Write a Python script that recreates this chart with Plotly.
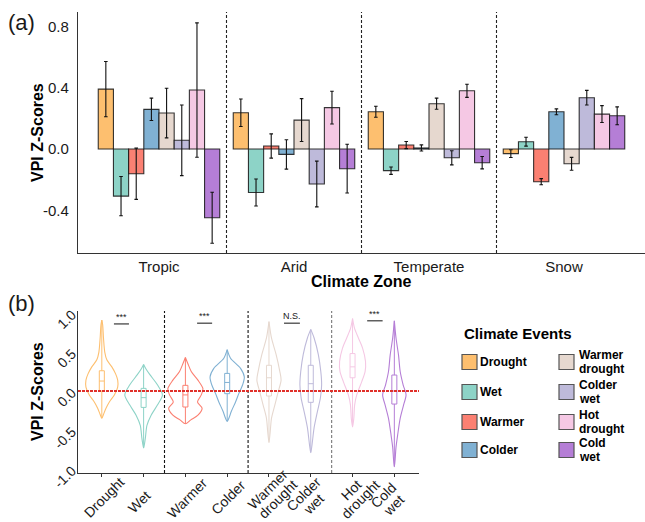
import plotly.graph_objects as go

# ---------------- data ----------------
zones = ["Tropic", "Arid", "Temperate", "Snow"]
events = ["Drought", "Wet", "Warmer", "Colder",
          "Warmer drought", "Colder wet", "Hot drought", "Cold wet"]
event_ticks = ["Drought", "Wet", "Warmer", "Colder",
               "Warmer<br>drought", "Colder<br>wet", "Hot<br>drought", "Cold<br>wet"]
colors = ["#FDBF6F", "#8DD3C7", "#FB8072", "#80B1D3",
          "#E6D8CF", "#BEBADA", "#F5C8E4", "#B57ED6"]

# panel (a): mean VPI z-score per zone (Tropic, Arid, Temperate, Snow) and error
mean_drought = [0.391, 0.237, 0.243, -0.030]
mean_wet = [-0.307, -0.283, -0.141, 0.048]
mean_warmer = [-0.161, 0.020, 0.026, -0.213]
mean_colder = [0.259, -0.035, 0.007, 0.243]
mean_warmer_drought = [0.235, 0.189, 0.296, -0.096]
mean_colder_wet = [0.057, -0.228, -0.057, 0.335]
mean_hot_drought = [0.385, 0.270, 0.380, 0.228]
mean_cold_wet = [-0.448, -0.128, -0.089, 0.217]

err_drought = [0.180, 0.090, 0.036, 0.025]
err_wet = [0.128, 0.088, 0.024, 0.029]
err_warmer = [0.167, 0.079, 0.023, 0.020]
err_colder = [0.073, 0.096, 0.020, 0.019]
err_warmer_drought = [0.162, 0.140, 0.036, 0.042]
err_colder_wet = [0.230, 0.149, 0.046, 0.048]
err_hot_drought = [0.438, 0.107, 0.043, 0.055]
err_cold_wet = [0.166, 0.159, 0.040, 0.058]

means = [mean_drought, mean_wet, mean_warmer, mean_colder,
         mean_warmer_drought, mean_colder_wet, mean_hot_drought, mean_cold_wet]
errs = [err_drought, err_wet, err_warmer, err_colder,
        err_warmer_drought, err_colder_wet, err_hot_drought, err_cold_wet]

# panel (b): violin density profiles (levels and half widths)
vl_drought = [-0.35, -0.30, -0.22, -0.14, -0.05, 0.05, 0.14, 0.22, 0.31, 0.40, 0.50, 0.68, 0.85, 0.91]
vw_drought = [0.0, 0.04, 0.10, 0.18, 0.30, 0.38, 0.38, 0.33, 0.24, 0.12, 0.07, 0.04, 0.02, 0.0]
vl_wet = [-0.73, -0.61, -0.44, -0.31, -0.18, -0.05, 0.08, 0.21, 0.29, 0.34]
vw_wet = [0.0, 0.04, 0.08, 0.18, 0.33, 0.45, 0.33, 0.15, 0.05, 0.0]
vl_warmer = [-0.42, -0.37, -0.31, -0.22, -0.14, -0.05, 0.03, 0.14, 0.25, 0.35, 0.43]
vw_warmer = [0.0, 0.13, 0.30, 0.40, 0.29, 0.38, 0.42, 0.30, 0.14, 0.06, 0.0]
vl_colder = [-0.39, -0.35, -0.26, -0.14, -0.03, 0.08, 0.18, 0.29, 0.42, 0.53]
vw_colder = [0.0, 0.04, 0.10, 0.20, 0.28, 0.37, 0.41, 0.32, 0.08, 0.0]
vl_warmer_drought = [-0.66, -0.52, -0.35, -0.18, -0.01, 0.14, 0.25, 0.47, 0.68, 0.89]
vw_warmer_drought = [0.0, 0.03, 0.06, 0.14, 0.22, 0.29, 0.26, 0.17, 0.06, 0.0]
vl_colder_wet = [-0.79, -0.69, -0.47, -0.26, -0.09, 0.08, 0.25, 0.47, 0.68, 0.79]
vw_colder_wet = [0.0, 0.03, 0.08, 0.16, 0.23, 0.26, 0.24, 0.18, 0.08, 0.0]
vl_hot_drought = [-0.46, -0.35, -0.18, -0.05, 0.12, 0.25, 0.38, 0.55, 0.68, 0.80, 0.93]
vw_hot_drought = [0.0, 0.03, 0.05, 0.10, 0.22, 0.30, 0.31, 0.24, 0.14, 0.05, 0.0]
vl_cold_wet = [-0.97, -0.87, -0.72, -0.56, -0.35, -0.18, -0.05, 0.08, 0.25, 0.46, 0.68, 0.90]
vw_cold_wet = [0.0, 0.02, 0.04, 0.08, 0.14, 0.22, 0.28, 0.21, 0.14, 0.10, 0.04, 0.0]

v_levels = [vl_drought, vl_wet, vl_warmer, vl_colder,
            vl_warmer_drought, vl_colder_wet, vl_hot_drought, vl_cold_wet]
v_widths = [vw_drought, vw_wet, vw_warmer, vw_colder,
            vw_warmer_drought, vw_colder_wet, vw_hot_drought, vw_cold_wet]

# box statistics per event
box_min = [-0.35, -0.73, -0.42, -0.39, -0.66, -0.79, -0.46, -0.97]
box_q1 = [0.00, -0.21, -0.205, -0.034, -0.064, -0.145, 0.17, -0.167]
box_med = [0.128, -0.085, -0.05, 0.11, 0.17, 0.094, 0.31, 0.00]
box_q3 = [0.26, 0.034, 0.073, 0.226, 0.33, 0.33, 0.48, 0.205]
box_max = [0.91, 0.34, 0.43, 0.53, 0.89, 0.79, 0.93, 0.90]

sig_labels = ["***", "***", "N.S.", "***"]
sig_x0 = [1.29, 3.28, 5.36, 7.35]
sig_x1 = [1.65, 3.64, 5.74, 7.72]
sig_y = [0.86, 0.87, 0.87, 0.90]

# ---------------- figure ----------------
W, H = 645, 522
FONT = "Liberation Sans, Arial, Helvetica, sans-serif"
TXT = "#1a1a1a"


def px(x):
    return x / W


def py(y):
    return 1 - y / H


fig = go.Figure()

for i, ev in enumerate(events):
    fig.add_trace(go.Bar(
        x=zones, y=means[i], name=ev,
        marker=dict(color=colors[i], line=dict(color="rgba(20,20,20,0.85)", width=1.1)),
        error_y=dict(type="data", array=errs[i], color="#111", thickness=1.1, width=1.8),
        xaxis="x", yaxis="y", showlegend=False,
    ))

for i, ev in enumerate(events):
    c = i + 1
    lv = v_levels[i]
    hw = v_widths[i]
    xs = [c - w for w in hw] + [c + w for w in reversed(hw)]
    ys = list(lv) + list(reversed(lv))
    fig.add_trace(go.Scatter(
        x=xs, y=ys, mode="lines", fill="toself",
        fillcolor="rgba(255,255,255,0)",
        line=dict(color=colors[i], width=1.1, shape="spline", smoothing=0.8),
        xaxis="x2", yaxis="y2", showlegend=False, hoverinfo="skip",
    ))
    fig.add_trace(go.Box(
        x=[c], q1=[box_q1[i]], median=[box_med[i]], q3=[box_q3[i]],
        lowerfence=[box_min[i]], upperfence=[box_max[i]],
        width=0.12, whiskerwidth=0, boxpoints=False,
        line=dict(color=colors[i], width=1), fillcolor="rgba(0,0,0,0)",
        xaxis="x2", yaxis="y2", showlegend=False, name=ev,
    ))

shapes = []
# separators panel (a)
for xv in [0.5, 1.5, 2.5]:
    shapes.append(dict(type="line", xref="x", yref="y domain", x0=xv, x1=xv, y0=0, y1=1,
                       line=dict(color="#222", width=1.1, dash="3px,2px")))
# separators panel (b)
for xv, col in [(2.5, "#111"), (4.5, "#111"), (6.5, "#777")]:
    shapes.append(dict(type="line", xref="x2", yref="y2 domain", x0=xv, x1=xv, y0=0, y1=1,
                       line=dict(color=col, width=1.1, dash="3px,2px")))
# red zero line panel (b)
shapes.append(dict(type="line", xref="x2 domain", yref="y2", x0=0, x1=1, y0=0, y1=0,
                   line=dict(color="#E0302A", width=2, dash="3px,1px")))
# significance bars
for k in range(len(sig_labels)):
    shapes.append(dict(type="line", xref="x2", yref="y2", x0=sig_x0[k], x1=sig_x1[k],
                       y0=sig_y[k], y1=sig_y[k], line=dict(color="#111", width=1)))

annotations = []
for k in range(len(sig_labels)):
    annotations.append(dict(x=(sig_x0[k] + sig_x1[k]) / 2, y=sig_y[k], xref="x2", yref="y2",
                            text=sig_labels[k], showarrow=False, yanchor="bottom", yshift=0,
                            font=dict(family=FONT, size=9, color=TXT)))

# rotated category labels of panel (b) (placement tweaks in pixels)
lab_dx = [2.5, -4.5, 1.7, 1.2, 4.0, -2.0, 3.5, -5.5]
lab_cy = [497, 502, 497.5, 496.5, 494, 499, 494.5, 500]
LINE_SP = 14.0
for i, lab in enumerate(event_ticks):
    parts = lab.split("<br>")
    n = len(parts)
    for j, part in enumerate(parts):
        t = (j - (n - 1) / 2) * LINE_SP
        annotations.append(dict(x=i + 1, y=py(lab_cy[i] + 0.7071 * t), xref="x2", yref="paper",
                                xshift=lab_dx[i] + 0.7071 * t, text=part,
                                showarrow=False, textangle=-45, xanchor="center",
                                yanchor="middle", borderpad=0,
                                font=dict(family=FONT, size=14, color=TXT)))

annotations += [
    dict(x=px(6), y=py(22), xref="paper", yref="paper", text="(a)", showarrow=False,
         xanchor="left", yanchor="middle", font=dict(family=FONT, size=22, color=TXT)),
    dict(x=px(6), y=py(303), xref="paper", yref="paper", text="(b)", showarrow=False,
         xanchor="left", yanchor="middle", font=dict(family=FONT, size=22, color=TXT)),
    dict(x=px(361.5), y=py(281), xref="paper", yref="paper", text="<b>Climate Zone</b>",
         showarrow=False, xanchor="center", yanchor="middle",
         font=dict(family=FONT, size=16, color="#000")),
    dict(x=px(38), y=py(133), xref="paper", yref="paper", text="<b>VPI Z-Scores</b>",
         showarrow=False, textangle=-90, xanchor="center", yanchor="middle",
         font=dict(family=FONT, size=16, color="#000")),
    dict(x=px(37), y=py(392), xref="paper", yref="paper", text="<b>VPI Z-Scores</b>",
         showarrow=False, textangle=-90, xanchor="center", yanchor="middle",
         font=dict(family=FONT, size=16, color="#000")),
    dict(x=px(462), y=py(333), xref="paper", yref="paper", text="<b>Climate Events</b>",
         showarrow=False, xanchor="left", yanchor="middle",
         font=dict(family=FONT, size=15, color="#000")),
]

# manual legend (two columns)
leg_rows = [362, 392, 422, 450]
leg_cols = [(462, 479), (559, 578)]
for i, ev in enumerate(events):
    col = 0 if i < 4 else 1
    row = i % 4
    sx, tx = leg_cols[col]
    cy = leg_rows[row]
    shapes.append(dict(type="rect", xref="paper", yref="paper",
                       x0=px(sx), x1=px(sx + 15), y0=py(cy + 7.5), y1=py(cy - 7.5),
                       fillcolor=colors[i], line=dict(color="#555", width=1.2)))
    lines = event_ticks[i].split("<br>")
    n = len(lines)
    for j, ln in enumerate(lines):
        ly = cy + (j - (n - 1) / 2) * 13.8
        annotations.append(dict(x=px(tx), y=py(ly), xref="paper", yref="paper",
                                text="<b>" + ln + "</b>", showarrow=False,
                                xanchor="left", yanchor="middle", align="left", borderpad=0,
                                font=dict(family=FONT, size=12, color="#000")))

axis_common = dict(showgrid=False, zeroline=False, showline=True, linecolor="#333",
                   linewidth=1.3, automargin=False,
                   tickfont=dict(family=FONT, size=15, color=TXT))

fig.update_layout(
    width=W, height=H, margin=dict(l=0, r=0, t=0, b=0),
    paper_bgcolor="white", plot_bgcolor="white", template="none",
    barmode="group", bargap=0.1, bargroupgap=0.0,
    showlegend=False,
    xaxis=dict(domain=[px(78), 1.0], anchor="y", type="category",
               range=[-0.6, 3.6], ticks="", ticklabelstandoff=0, **axis_common),
    yaxis=dict(domain=[py(253), py(12)], anchor="x", range=[-0.678, 0.894],
               tickvals=[-0.4, 0.0, 0.4, 0.8], ticktext=["-0.4", "0.0", "0.4", "0.8"],
               ticks="", ticklabelstandoff=5, **axis_common),
    xaxis2=dict(domain=[px(78), px(419)], anchor="y2", range=[0.43, 8.59],
                tickvals=list(range(1, 9)), showticklabels=False,
                ticks="outside", ticklen=3, tickcolor="#333", **axis_common),
    yaxis2=dict(domain=[py(473), py(311)], anchor="x2", range=[-1.051, 1.026],
                tickvals=[-1.0, -0.5, 0.0, 0.5, 1.0],
                ticktext=["-1.0", "-0.5", "0.0", "0.5", "1.0"], tickangle=-45,
                ticks="", ticklabelstandoff=2,
                **{**axis_common, "tickfont": dict(family=FONT, size=14, color=TXT)}),
    shapes=shapes, annotations=annotations,
)

fig.write_html("out.html", config={"displayModeBar": False},
               post_script="document.body.style.margin='0';document.body.style.padding='0';"
                           "document.body.style.overflow='hidden';")
